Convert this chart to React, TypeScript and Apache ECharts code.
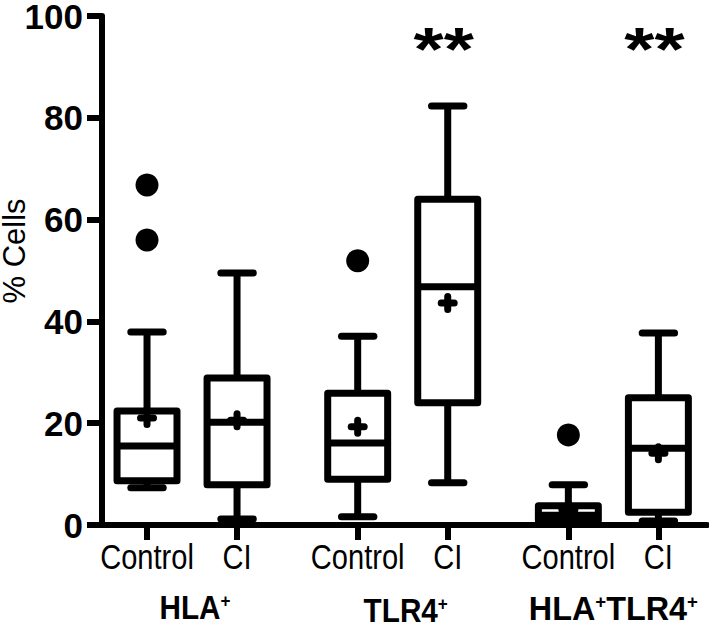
import React, { useEffect, useRef } from "react";
import * as echarts from "echarts";

// ---- data ----
const categories = ["Control", "CI", "Control", "CI", "Control", "CI"];
const groupNames = [
  ["HLA", "+"],
  ["TLR4", "+"],
  ["HLA", "+", "TLR4", "+"],
];
const yAxisTitle = "% Cells";
const lowWhisker = [7.3, 1.2, 1.6, 8.3, 0.2, 0.8];
const q1 = [8.7, 7.9, 9.0, 24.0, 0.9, 2.5];
const median = [15.5, 20.2, 16.1, 46.8, 1.9, 15.1];
const q3 = [22.4, 28.9, 25.9, 64.0, 3.8, 25.0];
const highWhisker = [37.9, 49.5, 37.1, 82.3, 7.9, 37.7];
const means = [21.0, 20.6, 19.3, 43.6, 3.0, 14.1];
// [category index, value]
const outliers: [number, number][] = [
  [0, 66.8],
  [0, 56.0],
  [2, 51.9],
  [4, 17.7],
];
const significance = ["", "", "", "**", "", "**"];
const yTicks = [0, 20, 40, 60, 80, 100];

// ---- layout constants ----
const FIRST = 0.5;
const PAIR_STEP = 1;
const GROUP_STRIDE = 2.34;
const X_MAX = 6.72;
const xPos = (i: number) => FIRST + Math.floor(i / 2) * GROUP_STRIDE + (i % 2) * PAIR_STEP;
const FONT = "'Liberation Sans', Arial, Helvetica, sans-serif";
const LW = 7;

export default function App() {
  const ref = useRef<HTMLDivElement>(null);
  useEffect(() => {
    if (!ref.current) return;
    const chart = echarts.init(ref.current, null, { renderer: "svg" });
    const boxData = categories.map((_, i) => [
      xPos(i),
      lowWhisker[i],
      q1[i],
      median[i],
      q3[i],
      highWhisker[i],
      means[i],
    ]);
    const option: any = {
      animation: false,
      backgroundColor: "#fff",
      grid: { left: 102, right: 2, top: 16, bottom: 103, containLabel: false, outerBoundsMode: "none" },
      xAxis: {
        type: "value",
        min: 0,
        max: X_MAX,
        splitLine: { show: false },
        axisLine: { show: true, onZero: false, lineStyle: { color: "#000", width: 6 } },
        axisTick: {
          show: true,
          customValues: categories.map((_, i) => xPos(i)),
          length: 15,
          lineStyle: { color: "#000", width: 6 },
        },
        axisLabel: { show: false },
      },
      yAxis: {
        type: "value",
        min: 0,
        max: 100,
        interval: 20,
        splitLine: { show: false },
        axisLine: { show: true, lineStyle: { color: "#000", width: 6 } },
        axisTick: { show: true, length: 15, lineStyle: { color: "#000", width: 6 } },
        axisLabel: {
          margin: 19,
          fontFamily: FONT,
          fontSize: 35,
          lineHeight: 30,
          fontWeight: "bold",
          color: "#000",
          customValues: yTicks,
        },
      },
      series: [
        {
          type: "custom",
          clip: false,
          data: boxData,
          encode: { x: 0, y: [1, 2, 3, 4, 5, 6] },
          renderItem: (params: any, api: any) => {
            const x = api.value(0);
            const lo = api.coord([x, api.value(1)]);
            const b1 = api.coord([x, api.value(2)]);
            const md = api.coord([x, api.value(3)]);
            const b3 = api.coord([x, api.value(4)]);
            const hi = api.coord([x, api.value(5)]);
            const mn = api.coord([x, api.value(6)]);
            const unit = api.size([1, 0])[0];
            const hb = unit * 0.333;
            const hc = unit * 0.18;
            const cx = lo[0];
            const ls = { stroke: "#000", lineWidth: LW, lineCap: "round" };
            const pl = 6.5;
            return {
              type: "group",
              children: [
                { type: "line", shape: { x1: cx, y1: b3[1], x2: cx, y2: hi[1] }, style: { ...ls, lineCap: "butt" } },
                { type: "line", shape: { x1: cx, y1: b1[1], x2: cx, y2: lo[1] }, style: { ...ls, lineCap: "butt" } },
                { type: "line", shape: { x1: cx - hc, y1: hi[1], x2: cx + hc, y2: hi[1] }, style: ls },
                { type: "line", shape: { x1: cx - hc, y1: lo[1], x2: cx + hc, y2: lo[1] }, style: ls },
                {
                  type: "rect",
                  shape: { x: cx - hb, y: b3[1], width: hb * 2, height: b1[1] - b3[1] },
                  style: { stroke: "#000", lineWidth: LW, fill: "#fff", lineJoin: "round" },
                },
                { type: "line", shape: { x1: cx - hb, y1: md[1], x2: cx + hb, y2: md[1] }, style: { stroke: "#000", lineWidth: LW } },
                { type: "line", shape: { x1: cx - pl, y1: mn[1], x2: cx + pl, y2: mn[1] }, style: ls },
                { type: "line", shape: { x1: cx, y1: mn[1] - pl, x2: cx, y2: mn[1] + pl }, style: ls },
              ],
            };
          },
          z: 3,
        },
        {
          type: "scatter",
          data: outliers.map(([i, v]) => [xPos(i), v]),
          symbol: "circle",
          symbolSize: 23,
          itemStyle: { color: "#000", opacity: 1 },
          z: 4,
        },
      ],
    };
    chart.setOption(option);

    const toPx = (x: number, y: number) => chart.convertToPixel({ gridIndex: 0 }, [x, y]) as number[];
    const graphics: any[] = [
      {
        type: "text",
        x: 14,
        y: 251,
        rotation: Math.PI / 2,
        style: {
          text: yAxisTitle,
          fontFamily: FONT,
          fontSize: 31,
          lineHeight: 26,
          fill: "#000",
          align: "center",
          verticalAlign: "middle",
        },
      },
    ];
    categories.forEach((c, i) => {
      const p = toPx(xPos(i), 0);
      graphics.push({
        type: "text",
        x: p[0],
        y: 557,
        scaleX: 0.83,
        style: {
          text: c,
          fontFamily: FONT,
          fontSize: 35,
          fill: "#000",
          align: "center",
          verticalAlign: "middle",
        },
      });
      if (significance[i]) {
        const ps = toPx(xPos(i), 100);
        graphics.push({
          type: "text",
          x: ps[0] - 4,
          y: 48,
          scaleX: 1.25,
          style: {
            text: significance[i],
            fontFamily: FONT,
            fontSize: 62,
            fontWeight: "bold",
            fill: "#000",
            align: "center",
            verticalAlign: "middle",
          },
        });
      }
    });
    groupNames.forEach((parts, g) => {
      const a = toPx(xPos(g * 2), 0);
      const b = toPx(xPos(g * 2 + 1), 0);
      const text = parts.map((t, k) => (k % 2 === 0 ? `{m|${t}}` : `{s|${t}}`)).join("");
      graphics.push({
        type: "text",
        x: (a[0] + b[0]) / 2 + (g === 2 ? 0 : 3),
        y: g === 1 ? 611 : 608,
        scaleX: g === 2 ? 0.98 : 0.9,
        style: {
          text,
          fill: "#000",
          align: "center",
          verticalAlign: "middle",
          rich: {
            m: { fontFamily: FONT, fontSize: 33, fontWeight: "bold", fill: "#000", verticalAlign: "bottom" },
            s: { fontFamily: FONT, fontSize: 19, fontWeight: "bold", fill: "#000", verticalAlign: "top" },
          },
        },
      });
    });
    chart.setOption({ graphic: graphics });
    return () => chart.dispose();
  }, []);
  return (
    <div
      ref={ref}
      style={{ position: "fixed", left: 0, top: 0, width: 709, height: 628, background: "#fff" }}
    />
  );
}
